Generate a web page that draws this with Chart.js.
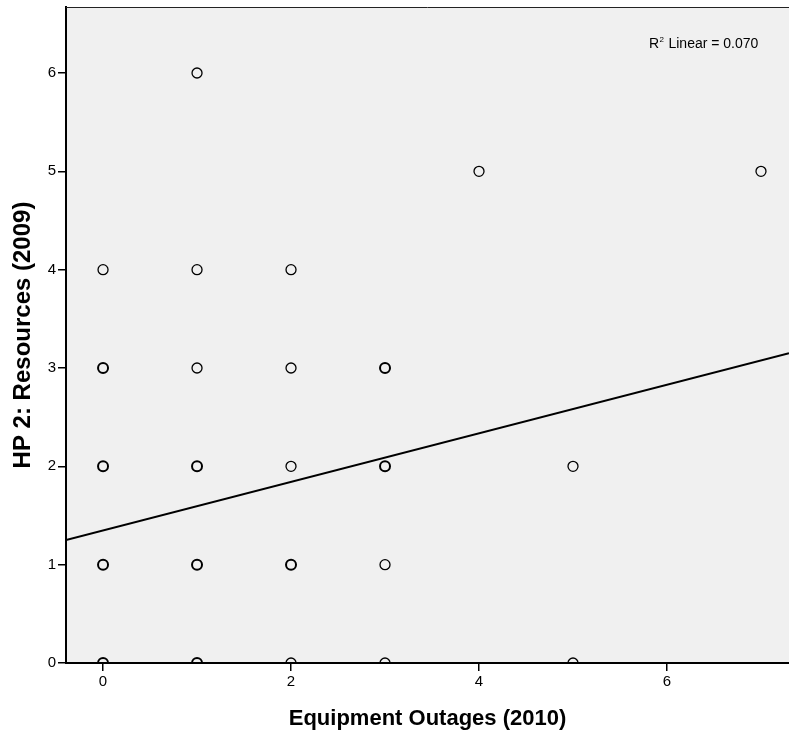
<!DOCTYPE html>
<html><head><meta charset="utf-8">
<script src="https://cdn.jsdelivr.net/npm/chart.js@4/dist/chart.umd.min.js"></script>
<style>html,body{margin:0;padding:0;background:#fff;overflow:hidden}#wrap{position:relative;width:789px;height:734px}canvas{display:block}</style>
</head><body><div id="wrap"><canvas id="c"></canvas></div>
<script>
// Observed cases: Equipment Outages (2010) vs HP 2: Resources (2009)
const outages   = [0,1,2,3,5, 0,1,2,3, 0,1,2,3,5, 0,1,2,3, 0,1,2, 1, 4, 7];
const resources = [0,0,0,0,0, 1,1,1,1, 2,2,2,2,2, 3,3,3,3, 4,4,4, 6, 5, 5];
const caseCounts= [2,2,1,1,1, 3,3,2,1, 3,3,1,2,1, 2,1,1,2, 1,1,1, 1, 1, 1];
const xTickValues = [0,2,4,6];
const yTickValues = [0,1,2,3,4,5,6];
const xRange = [-0.394, 7.298];
const yRange = [0, 6.671];
const fitIntercept = 1.347;
const fitSlope = 0.247;
const rSquaredText = '0.070';
const xTitle = 'Equipment Outages (2010)';
const yTitle = 'HP 2: Resources (2009)';

const points = outages.map((x,i)=>({x:x, y:resources[i], n:caseCounts[i]}));
const fitLine = xRange.map(x=>({x:x, y:fitIntercept + fitSlope*x}));

const bgPlugin = {
  id:'bg',
  beforeDraw(chart){
    const {ctx, chartArea:a} = chart;
    ctx.save();
    ctx.fillStyle = '#f0f0f0';
    ctx.fillRect(a.left, a.top, a.right-a.left, a.bottom-a.top);
    ctx.restore();
  },
  afterDraw(chart){
    const {ctx, chartArea:a} = chart;
    ctx.save();
    ctx.strokeStyle = '#222';
    ctx.lineWidth = 1;
    ctx.beginPath();
    ctx.moveTo(a.left, a.top+0.5);
    ctx.lineTo(a.right, a.top+0.5);
    ctx.stroke();
    // R² label
    ctx.fillStyle = '#000';
    ctx.textBaseline = 'alphabetic';
    ctx.textAlign = 'left';
    let x0 = a.right - 140, y0 = a.top + 41;
    ctx.font = '14px "Liberation Sans", Arial, sans-serif';
    ctx.fillText('R', x0, y0);
    x0 += ctx.measureText('R').width;
    ctx.font = '8px "Liberation Sans", Arial, sans-serif';
    ctx.fillText('2', x0+0.5, y0-6);
    x0 += ctx.measureText('2').width + 1;
    ctx.font = '14px "Liberation Sans", Arial, sans-serif';
    ctx.fillText(' Linear = ' + rSquaredText, x0, y0);
    ctx.restore();
  }
};

new Chart(document.getElementById('c'), {
  type:'scatter',
  data:{
    datasets:[
      {
        label:'Observed',
        data:points,
        pointStyle:'circle',
        pointRadius:5,
        pointHoverRadius:5,
        backgroundColor:'rgba(0,0,0,0)',
        borderColor:'#000',
        pointBorderWidth:(c)=> (c.raw && c.raw.n>1) ? 2 : 1.3,
        clip:0
      },
      {
        type:'line',
        label:'Linear',
        data:fitLine,
        borderColor:'#000',
        borderWidth:2,
        pointRadius:0,
        fill:false,
        clip:0
      }
    ]
  },
  options:{
    responsive:true,
    maintainAspectRatio:false,
    animation:false,
    devicePixelRatio:1,
    layout:{autoPadding:false, padding:{top:7,right:0,left:0,bottom:0}},
    plugins:{legend:{display:false}, tooltip:{enabled:false}},
    scales:{
      x:{
        type:'linear', min:xRange[0], max:xRange[1], z:1,
        afterBuildTicks:(s)=>{ s.ticks = xTickValues.map(v=>({value:v})); },
        afterFit:(s)=>{ s.height = 71; s.paddingLeft = 0; s.paddingRight = 0; },
        grid:{drawOnChartArea:false, drawTicks:true, tickLength:8, color:'#000', lineWidth:1.5},
        border:{display:true, color:'#000', width:2},
        ticks:{color:'#000', padding:2, maxRotation:0, autoSkip:false,
               font:{family:'"Liberation Sans", Arial', size:15}},
        title:{display:true, text:xTitle, color:'#000', padding:{top:0,bottom:2},
               font:{family:'"Liberation Sans", Arial', size:22, weight:'bold'}}
      },
      y:{
        type:'linear', min:yRange[0], max:yRange[1], z:1,
        afterBuildTicks:(s)=>{ s.ticks = yTickValues.map(v=>({value:v})); },
        afterFit:(s)=>{ s.width = 66; s.paddingTop = 0; s.paddingBottom = 0; },
        grid:{drawOnChartArea:false, drawTicks:true, tickLength:8, color:'#000', lineWidth:1.5},
        border:{display:true, color:'#000', width:2},
        ticks:{color:'#000', padding:2, autoSkip:false,
               font:{family:'"Liberation Sans", Arial', size:15}},
        title:{display:true, text:yTitle, color:'#000', padding:{top:9,bottom:0},
               font:{family:'"Liberation Sans", Arial', size:24, weight:'bold'}}
      }
    }
  },
  plugins:[bgPlugin]
});
</script>
</body></html>
